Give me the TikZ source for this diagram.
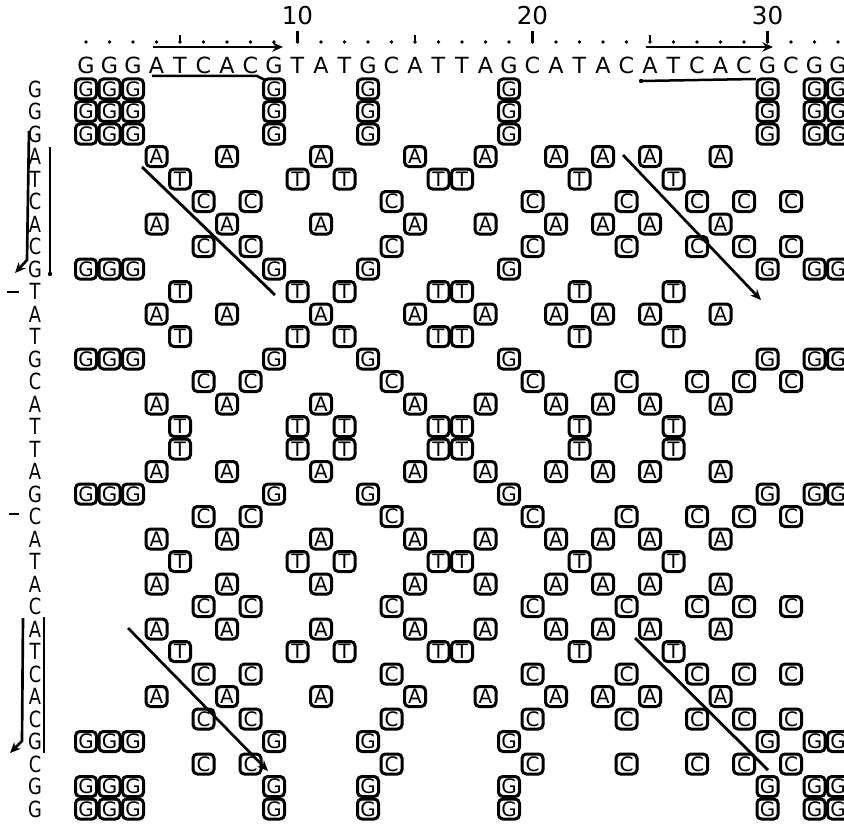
\documentclass[tikz,border=0pt]{standalone}
\usepackage{fontspec}
\setmainfont{DejaVu Sans}
\usetikzlibrary{arrows.meta}
\def\seqlist{G,G,G,A,T,C,A,C,G,T,A,T,G,C,A,T,T,A,G,C,A,T,A,C,A,T,C,A,C,G,C,G,G}
\tikzset{
  seqtxt/.style={inner sep=0pt, font=\fontsize{19}{19}\selectfont},
  lefttxt/.style={seqtxt, xscale=0.8},
  numtxt/.style={inner sep=0pt, font=\fontsize{21}{21}\selectfont},
  hit/.style={draw, line width=0.9mm, rounded corners=1.3mm, minimum width=6.3mm, minimum height=6mm, inner sep=0pt, font=\fontsize{17}{17}\selectfont},
  arr/.style={-{Stealth[length=3.2mm, width=2.8mm]}, line width=0.8mm},
  rule/.style={line width=0.75mm},
  tick/.style={line width=0.65mm}
}
\begin{document}
\begin{tikzpicture}[x=0.3mm, y=-0.3mm]
\useasboundingbox (0,0) rectangle (844,827);
% numbering above the sequence
\foreach \i in {1,...,33} \fill ({86+(\i-1)*23.5},42) circle[radius=0.55mm];
\foreach \i in {5,15,25} \draw[tick] ({86+(\i-1)*23.5},35) -- ({86+(\i-1)*23.5},43);
\foreach \i in {10,20,30} {
  \draw[tick] ({86+(\i-1)*23.5},31) -- ({86+(\i-1)*23.5},43);
  \node[numtxt] (n\i) at ({86+(\i-1)*23.5},16) {\i};
}
% sequence on both axes
\foreach \b [count=\i] in \seqlist {
  \node[seqtxt, anchor=base] (t\i) at ({86+(\i-1)*23.5},74) {\b};
  \node[lefttxt] (l\i) at (35,{89+(\i-1)*22.5}) {\b};
}
% matching cells
\foreach \rowb [count=\j] in \seqlist {
  \foreach \colb [count=\i] in \seqlist {
    \edef\tmpr{\rowb}\edef\tmpc{\colb}
    \ifx\tmpr\tmpc
      \node[hit] (c-\j-\i) at ({86+(\i-1)*23.5},{89+(\j-1)*22.5}) {\colb};
    \fi
  }
}
% repeats marked on the top sequence
\coordinate (u1a) at (153,47); \coordinate (u1b) at (283,47);
\coordinate (u2a) at (646,47); \coordinate (u2b) at (773,47);
\draw[arr] (u1a) -- (u1b);
\draw[arr] (u2a) -- (u2b);
\coordinate (b1a) at (152,76); \coordinate (b1b) at (257,76); \coordinate (b1c) at (265,80);
\draw[rule] (b1a) -- (b1b) -- (b1c);
\coordinate (b2a) at (641,81); \coordinate (b2b) at (756,79);
\fill (b2a) circle[radius=0.65mm];
\draw[rule] (b2a) -- (b2b);
% repeats marked on the left sequence
\coordinate (v1a) at (29,131); \coordinate (v1b) at (27,260); \coordinate (v1c) at (15,273);
\draw[arr] (v1a) -- (v1b) -- (v1c);
\coordinate (w1a) at (50,147); \coordinate (w1b) at (50,274);
\draw[rule] (w1a) -- (w1b);
\fill (w1b) circle[radius=0.65mm];
\coordinate (v2a) at (23,618); \coordinate (v2b) at (22,741); \coordinate (v2c) at (10,753);
\draw[arr] (v2a) -- (v2b) -- (v2c);
\coordinate (w2a) at (44,617); \coordinate (w2b) at (44,753);
\draw[rule] (w2a) -- (w2b);
\coordinate (k10a) at (7,292); \coordinate (k10b) at (19,292);
\draw[rule] (k10a) -- (k10b);
\coordinate (k20a) at (9,514); \coordinate (k20b) at (19,514);
\draw[rule] (k20a) -- (k20b);
% diagonals through the repeats
\coordinate (d1a) at (142,167); \coordinate (d1b) at (275,295);
\coordinate (d2a) at (623,155); \coordinate (d2b) at (761,300);
\coordinate (d3a) at (128,628); \coordinate (d3b) at (268,771);
\coordinate (d4a) at (635,638); \coordinate (d4b) at (768,770);
\draw[line width=0.85mm] (d1a) -- (d1b);
\draw[arr] (d2a) -- (d2b);
\draw[arr] (d3a) -- (d3b);
\draw[line width=0.85mm] (d4a) -- (d4b);
\end{tikzpicture}
\end{document}
